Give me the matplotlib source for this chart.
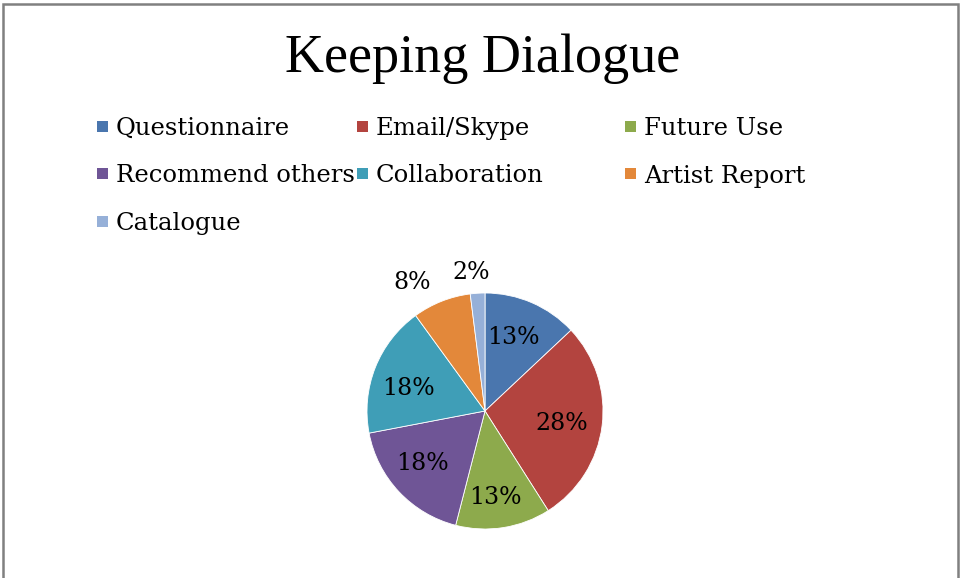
import numpy as np
import matplotlib
matplotlib.use("Agg")
from matplotlib import pyplot as plt
from matplotlib.patches import Rectangle

# Slice data (percent shown on the chart)
labels = ["Questionnaire", "Email/Skype", "Future Use", "Recommend others",
          "Collaboration", "Artist Report", "Catalogue"]
values = [13, 28, 13, 18, 18, 8, 2]
colors = ["#4A76AE", "#B3443F", "#8DAA4C", "#6F5596", "#3F9EB7", "#E3883A", "#96B0D8"]

# where each percent label sits: distance from centre (in radii) and angle shift from slice middle
lab_dist = [0.67, 0.66, 0.74, 0.69, 0.68, 1.25, 1.18]
lab_shift = [2, -2, -2, -3, 5, 8, 2]

W, H = 963, 578
fig = plt.figure(figsize=(W / 100, H / 100), dpi=100)

# gray frame round the chart (bottom edge is cut off in the original)
fig.patches.append(Rectangle((3 / W, -0.05), 955 / W, 1.05 - 4 / H, transform=fig.transFigure,
                             fill=False, edgecolor="#808080", linewidth=1.8))

fig.text(483 / W, 1 - 72 / H, "Keeping Dialogue", ha="center", va="baseline",
         fontsize=39, family="Liberation Serif", color="black")

# legend: three equal columns, filled row by row
col_x = [97, 357, 625]
for i, (lab, col) in enumerate(zip(labels, colors)):
    row, c = divmod(i, 3)
    x0 = col_x[c]
    yc = 126 + row * 47.5
    fig.patches.append(Rectangle((x0 / W, 1 - (yc + 5.5) / H), 11 / W, 11 / H,
                                 transform=fig.transFigure, facecolor=col, edgecolor="none"))
    fig.text((x0 + 19) / W, 1 - (yc + 9) / H, lab, ha="left", va="baseline",
             fontsize=17.5, family="DejaVu Serif", color="black")

# pie
cx, cy, r = 485, 411, 118
ax = fig.add_axes([(cx - r) / W, 1 - (cy + r) / H, 2 * r / W, 2 * r / H])
wedges, texts, autotexts = ax.pie(values, colors=colors, startangle=90, counterclock=False,
                                  autopct="%1.0f%%", pctdistance=0.68,
                                  wedgeprops=dict(edgecolor="white", linewidth=0.6),
                                  textprops=dict(fontsize=17, family="DejaVu Serif", color="black"))
ax.set_xlim(-1, 1)
ax.set_ylim(-1, 1)
ax.set_aspect("equal")
ax.axis("off")

# move labels like Excel's "best fit" (small slices go outside)
for w, t, d, s in zip(wedges, autotexts, lab_dist, lab_shift):
    ang = np.deg2rad((w.theta1 + w.theta2) / 2 + s)
    t.set_position((d * np.cos(ang), d * np.sin(ang)))

fig.savefig("out.png", dpi=100)
